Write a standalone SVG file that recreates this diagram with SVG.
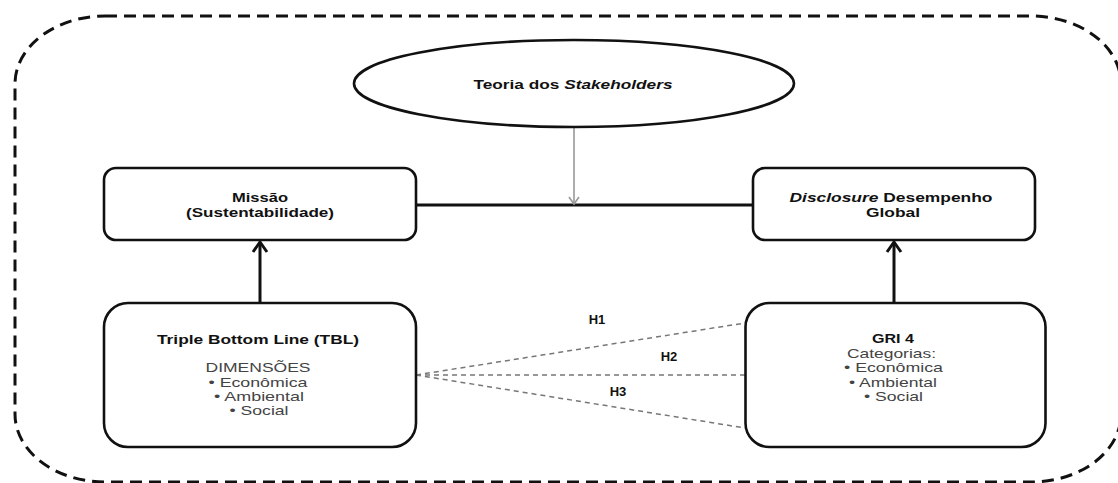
<svg xmlns="http://www.w3.org/2000/svg" width="1118" height="483" viewBox="0 0 1118 483">
<defs>
<style>
.frame{fill:none;stroke:#111;stroke-width:3;stroke-dasharray:12 7}
.box{fill:#fff;stroke:#111;stroke-width:2.6}
.t{font-family:"Liberation Sans",Arial,sans-serif;font-size:13px;text-anchor:middle}
.b{font-weight:bold;fill:#111}
.r{fill:#444}
.thick{stroke:#111;stroke-width:3;fill:none}
.thin{stroke:#999;stroke-width:1.6;fill:none}
.hyp{stroke:#777;stroke-width:1.5;stroke-dasharray:5 4;fill:none}
</style>
<marker id="ah" markerUnits="userSpaceOnUse" markerWidth="24" markerHeight="24" viewBox="-12 -12 24 24" refX="0" refY="0" orient="auto">
<path d="M-10,-7 L0,0 L-10,7" fill="none" stroke="#111" stroke-width="3"/>
</marker>
<marker id="ag" markerUnits="userSpaceOnUse" markerWidth="16" markerHeight="16" viewBox="-8 -8 16 16" refX="0" refY="0" orient="auto">
<path d="M-7,-5 L0,0 L-7,5" fill="none" stroke="#999" stroke-width="1.6"/>
</marker>
</defs>
<rect width="1118" height="483" fill="#fff"/>
<rect class="frame" x="15" y="16" width="1106" height="466" rx="90" ry="68"/>

<g id="connectors">
<line class="thick" x1="416" y1="205" x2="753" y2="205"/>
<line class="thin" x1="574" y1="127" x2="574" y2="204" marker-end="url(#ag)"/>
<line class="thick" x1="260" y1="303" x2="260" y2="242" marker-end="url(#ah)"/>
<line class="thick" x1="894" y1="303" x2="894" y2="242" marker-end="url(#ah)"/>
<line class="hyp" x1="416" y1="375" x2="745" y2="323"/>
<line class="hyp" x1="416" y1="375" x2="745" y2="375"/>
<line class="hyp" x1="416" y1="375" x2="745" y2="428"/>
<text class="t b" x="597" y="324" font-size="12">H1</text>
<text class="t b" x="669" y="361" font-size="12">H2</text>
<text class="t b" x="618" y="396" font-size="12">H3</text>
</g>

<g id="stakeholders">
<ellipse class="box" cx="574" cy="83.5" rx="220" ry="43.5"/>
<text class="t b" x="573" y="89" font-size="14" textLength="199" lengthAdjust="spacingAndGlyphs">Teoria dos <tspan font-style="italic">Stakeholders</tspan></text>
</g>

<g id="missao">
<rect class="box" x="104" y="168" width="312" height="72" rx="12"/>
<text class="t b" x="260" y="202" textLength="56" lengthAdjust="spacingAndGlyphs">Missão</text>
<text class="t b" x="260" y="217" textLength="148" lengthAdjust="spacingAndGlyphs">(Sustentabilidade)</text>
</g>

<g id="disclosure">
<rect class="box" x="753" y="168" width="282" height="72" rx="12"/>
<text class="t b" x="891" y="202" textLength="203" lengthAdjust="spacingAndGlyphs"><tspan font-style="italic">Disclosure</tspan> Desempenho</text>
<text class="t b" x="893" y="217" textLength="54" lengthAdjust="spacingAndGlyphs">Global</text>
</g>

<g id="tbl">
<rect class="box" x="104" y="303" width="312" height="144" rx="24"/>
<text class="t b" x="258" y="344" textLength="202" lengthAdjust="spacingAndGlyphs">Triple Bottom Line (TBL)</text>
<text class="t r" x="258" y="372" textLength="105" lengthAdjust="spacingAndGlyphs">DIMENSÕES</text>
<text class="t r" x="258" y="387" textLength="99" lengthAdjust="spacingAndGlyphs">• Econômica</text>
<text class="t r" x="259" y="401" textLength="90" lengthAdjust="spacingAndGlyphs">• Ambiental</text>
<text class="t r" x="259" y="415" textLength="59" lengthAdjust="spacingAndGlyphs">• Social</text>
</g>

<g id="gri">
<rect class="box" x="745.5" y="303" width="300" height="144" rx="24"/>
<text class="t b" x="893" y="343" textLength="42" lengthAdjust="spacingAndGlyphs">GRI 4</text>
<text class="t r" x="891.5" y="358" textLength="89" lengthAdjust="spacingAndGlyphs">Categorias:</text>
<text class="t r" x="893.5" y="372" textLength="99" lengthAdjust="spacingAndGlyphs">• Econômica</text>
<text class="t r" x="893" y="387" textLength="88" lengthAdjust="spacingAndGlyphs">• Ambiental</text>
<text class="t r" x="893.5" y="401" textLength="59" lengthAdjust="spacingAndGlyphs">• Social</text>
</g>
</svg>
